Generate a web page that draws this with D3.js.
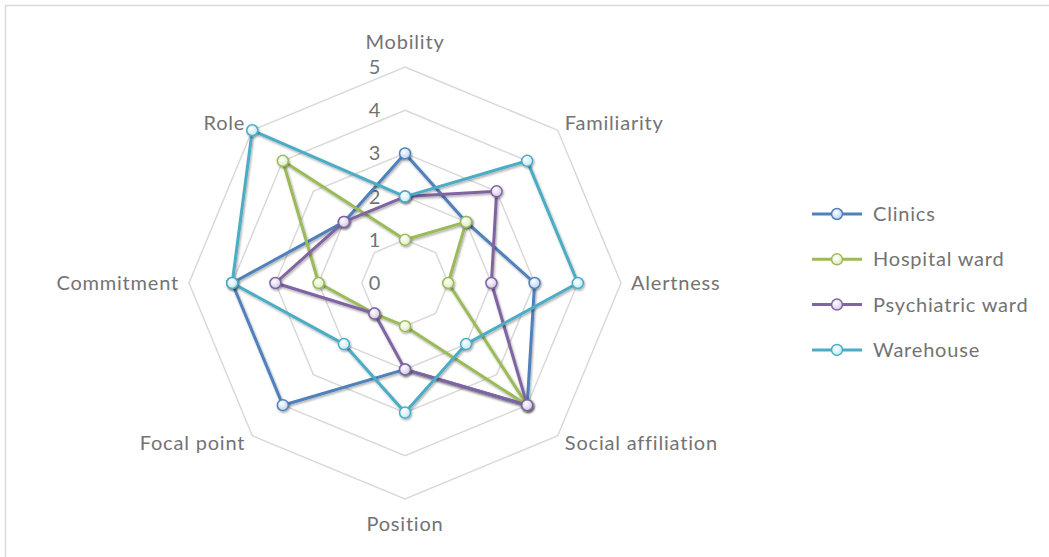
<!DOCTYPE html>
<html>
<head>
<meta charset="utf-8">
<script src="https://cdn.jsdelivr.net/npm/d3@7"></script>
<style>
  body { margin: 0; padding: 0; background: #fff; }
  svg { display: block; }
  text { font-family: Lato, "Open Sans", sans-serif; fill: #737373; letter-spacing: 0.8px; }
</style>
</head>
<body>
<script>
// chart data
var axesNames = ["Mobility", "Familiarity", "Alertness", "Social affiliation", "Position", "Focal point", "Commitment", "Role"];
var seriesNames = ["Clinics", "Hospital ward", "Psychiatric ward", "Warehouse"];
var clinics = [3, 2, 3, 4, 2, 4, 4, 2];
var hospitalWard = [1, 2, 1, 4, 1, 1, 2, 4];
var psychiatricWard = [2, 3, 2, 4, 2, 1, 3, 2];
var warehouse = [2, 4, 4, 2, 3, 2, 4, 5];
var ticks = [0, 1, 2, 3, 4, 5];

var allSeries = [clinics, hospitalWard, psychiatricWard, warehouse];
var lineColors = ["#4f81bd", "#9bbb59", "#8064a2", "#4bacc6"];
var fillColors = ["#b9cdee", "#dcebbc", "#cfc3e3", "#bbe8f3"];

var width = 1049, height = 557;
var cx = 405, cy = 283, R = 216;

var svg = d3.select("body").append("svg")
    .attr("width", width)
    .attr("height", height);

// outer chart border (right/bottom run past the canvas)
svg.append("rect")
    .attr("x", 5.5).attr("y", 5.5)
    .attr("width", width).attr("height", height)
    .attr("fill", "none")
    .attr("stroke", "#d9d9d9")
    .attr("stroke-width", 1.5);

var defs = svg.append("defs");
var shadow = defs.append("filter").attr("id", "shadow")
    .attr("x", "-50%").attr("y", "-50%").attr("width", "200%").attr("height", "200%");
shadow.append("feDropShadow")
    .attr("dx", 1).attr("dy", 1.5).attr("stdDeviation", 1.2)
    .attr("flood-color", "#000").attr("flood-opacity", 0.35);

fillColors.forEach(function(c, i) {
    var g = defs.append("radialGradient").attr("id", "mk" + i)
        .attr("cx", "40%").attr("cy", "35%").attr("r", "70%");
    g.append("stop").attr("offset", "0%").attr("stop-color", "#fff");
    g.append("stop").attr("offset", "100%").attr("stop-color", c);
});

var r = d3.scaleLinear().domain([0, 5]).range([0, R]);
var angle = d3.scaleLinear().domain([0, axesNames.length]).range([0, 2 * Math.PI]);

function pt(i, v) {
    var a = angle(i);
    return [cx + r(v) * Math.sin(a), cy - r(v) * Math.cos(a)];
}

// grid rings
var ring = d3.line().curve(d3.curveLinearClosed);
ticks.filter(function(t) { return t > 0; }).forEach(function(t) {
    svg.append("path")
        .attr("d", ring(axesNames.map(function(_, i) { return pt(i, t); })))
        .attr("fill", "none")
        .attr("stroke", "#d9d9d9")
        .attr("stroke-width", 1.5);
});

// value tick labels
svg.selectAll(".tick")
    .data(ticks)
    .enter()
    .append("text")
    .attr("class", "tick")
    .attr("x", cx - 30)
    .attr("y", function(d) { return cy - r(d); })
    .attr("dy", "0.35em")
    .attr("text-anchor", "middle")
    .attr("font-size", 20)
    .text(function(d) { return d; });

// axis labels
svg.selectAll(".axlab")
    .data(axesNames)
    .enter()
    .append("text")
    .attr("class", "axlab")
    .attr("font-size", 20)
    .attr("x", function(_, i) {
        var a = angle(i);
        return cx + (R + 10) * Math.sin(a);
    })
    .attr("y", function(_, i) {
        var a = angle(i);
        var y = cy - (R + 10) * Math.cos(a);
        if (i === 0) y -= 15;
        if (i === 4) y += 15;
        return y;
    })
    .attr("dy", "0.35em")
    .attr("text-anchor", function(_, i) {
        if (i === 0 || i === 4) return "middle";
        return i < 4 ? "start" : "end";
    })
    .text(function(d) { return d; });

// series
var line = d3.line().curve(d3.curveLinearClosed);
allSeries.forEach(function(vals, s) {
    var pts = vals.map(function(v, i) { return pt(i, v); });
    svg.append("path")
        .attr("d", line(pts))
        .attr("fill", "none")
        .attr("stroke", lineColors[s])
        .attr("stroke-width", 3)
        .attr("stroke-linejoin", "round")
        .attr("filter", "url(#shadow)");
    svg.selectAll(".m" + s)
        .data(pts)
        .enter()
        .append("circle")
        .attr("class", "m" + s)
        .attr("cx", function(d) { return d[0]; })
        .attr("cy", function(d) { return d[1]; })
        .attr("r", 5.5)
        .attr("fill", "url(#mk" + s + ")")
        .attr("stroke", lineColors[s])
        .attr("stroke-width", 1.5)
        .attr("filter", "url(#shadow)");
});

// legend
var legend = svg.append("g").attr("transform", "translate(812,214)");
seriesNames.forEach(function(name, s) {
    var g = legend.append("g").attr("transform", "translate(0," + (s * 45.3) + ")");
    g.append("line")
        .attr("x1", 0).attr("x2", 50)
        .attr("stroke", lineColors[s])
        .attr("stroke-width", 3);
    g.append("circle")
        .attr("cx", 25).attr("r", 5.5)
        .attr("fill", "url(#mk" + s + ")")
        .attr("stroke", lineColors[s])
        .attr("stroke-width", 1.5);
    g.append("text")
        .attr("x", 61)
        .attr("dy", "0.35em")
        .attr("font-size", 20)
        .text(name);
});
</script>
</body>
</html>
